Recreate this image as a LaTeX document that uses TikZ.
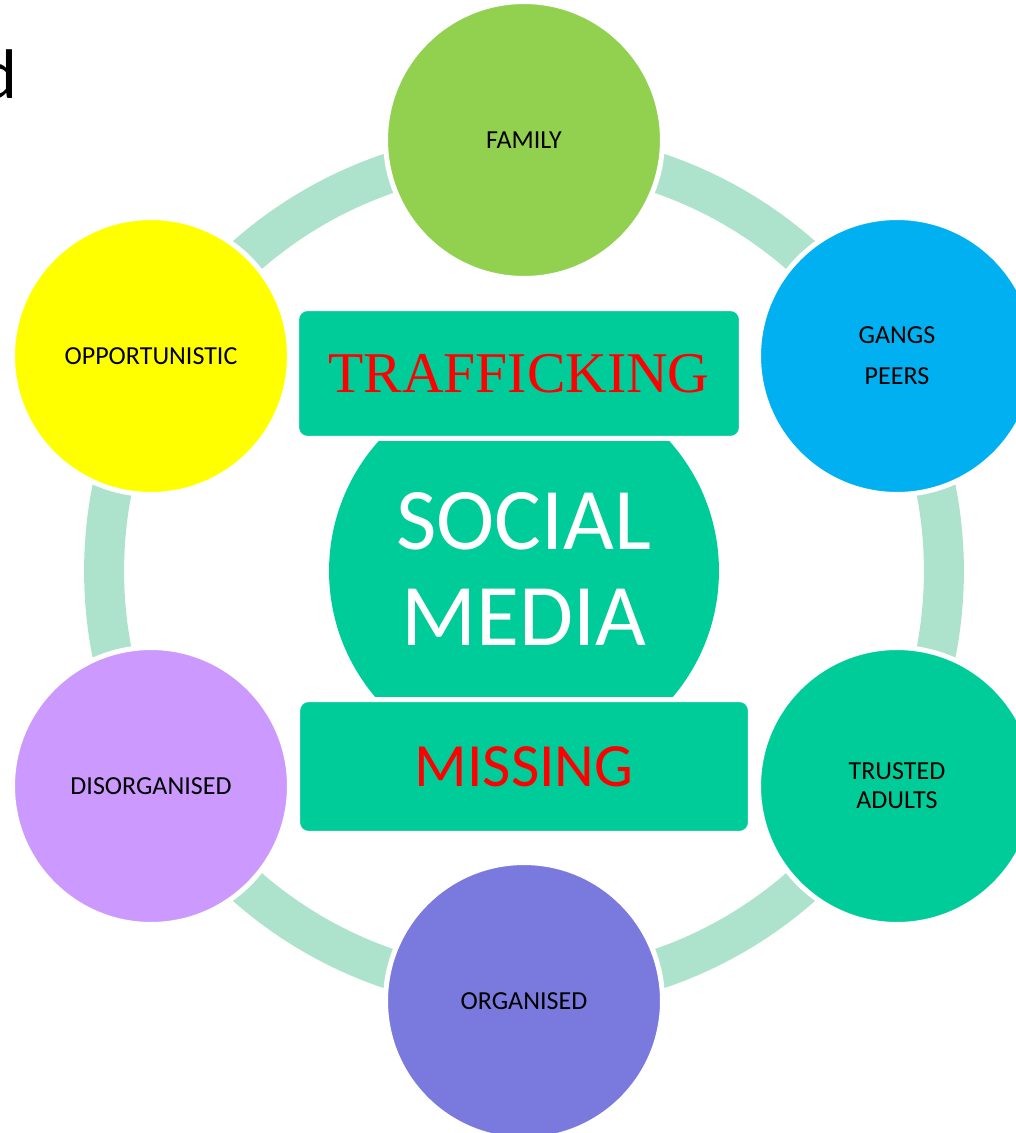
\documentclass[tikz,border=0pt]{standalone}
\usepackage{fontspec}
\setmainfont{Carlito}
\newfontfamily\titleserif{Liberation Serif}
\definecolor{famgreen}{RGB}{146,208,80}
\definecolor{gangblue}{RGB}{0,176,240}
\definecolor{hubgreen}{RGB}{0,204,153}
\definecolor{orgviolet}{RGB}{122,122,222}
\definecolor{dislilac}{RGB}{204,153,255}
\definecolor{ringmint}{RGB}{173,227,204}
\definecolor{oppyellow}{RGB}{255,255,0}
\tikzset{
  bubble/.style={circle, draw=white, line width=0.1cm, minimum size=5.54cm,
    inner sep=0pt, align=center, font=\fontsize{14.8}{17.8}\selectfont},
  banner/.style={rectangle, draw=white, line width=0.1cm, rounded corners=0.22cm,
    fill=hubgreen, inner sep=0pt, text=red},
}
\begin{document}
\begin{tikzpicture}[x=0.02cm,y=-0.02cm]
\useasboundingbox (0,0) rectangle (1016,1133);
\clip (0,0) rectangle (1016,1133);
% cut-off letter at the top left
\node[anchor=base east, inner sep=0pt, font=\fontsize{40}{40}\selectfont] (frag) at (18,98) {d};
% the ring behind the six groups
\draw[ringmint, line width=0.8cm] (524,571) circle [radius=8.4cm];
\node[bubble, fill=famgreen] (family) at (524,140) {FAMILY};
\node[bubble, fill=gangblue, font=\fontsize{14.8}{23.2}\selectfont] (gangs) at (897,356) {GANGS\\PEERS};
\node[bubble, fill=hubgreen, font=\fontsize{14.8}{16.4}\selectfont] (trusted) at (897,786) {TRUSTED\\ADULTS};
\node[bubble, fill=orgviolet] (organised) at (524,1001) {ORGANISED};
\node[bubble, fill=dislilac] (disorganised) at (151,786) {DISORGANISED};
\node[bubble, fill=oppyellow] (opportunistic) at (151,356) {OPPORTUNISTIC};
% centre
\fill[hubgreen] (524,571) circle [radius=3.9cm];
\node[white, align=center, font=\fontsize{50}{54.4}\selectfont] (social) at (524,569) {SOCIAL\\MEDIA};
\node[banner, minimum width=8.9cm, minimum height=2.6cm,
  font=\titleserif\fontsize{32.8}{36}\selectfont] (trafficking) at (519,373.5) {TRAFFICKING};
\node[banner, minimum width=9.06cm, minimum height=2.68cm,
  font=\fontsize{35}{40}\selectfont] (missing) at (524,766.5) {MISSING};
\end{tikzpicture}
\end{document}
